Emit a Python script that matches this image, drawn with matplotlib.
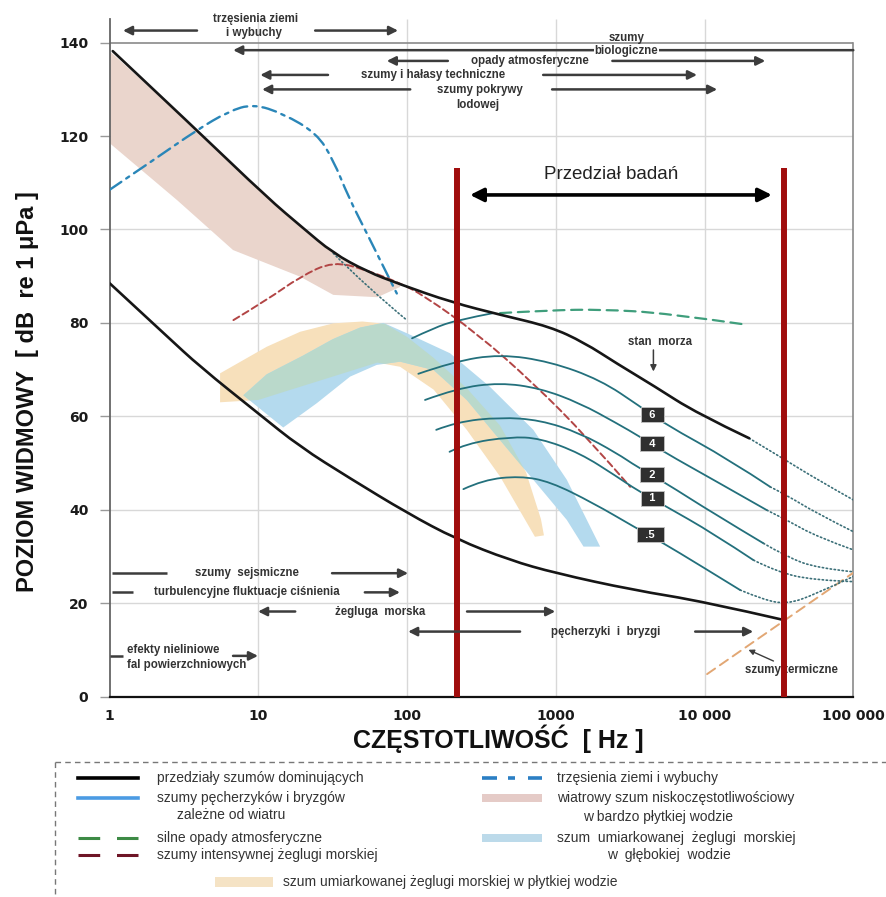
import matplotlib
matplotlib.use("Agg")
import matplotlib.pyplot as plt
from matplotlib import font_manager
from matplotlib.patches import Rectangle, PathPatch
from matplotlib.path import Path

# ---------------- values (Hz, dB re 1 uPa) ----------------
# upper limit of prevailing noise (sea state) + dotted tail
sea_hz = [1.05, 3.85, 11.5, 20, 31.6, 53.7, 89, 200, 427, 912, 1549, 2570, 4571, 8913, 19953]
sea_db = [138.2, 121.3, 106.8, 100.3, 95.0, 91.0, 88.3, 84.4, 81.7, 79.2, 75.8, 71.3, 66.5, 60.6, 55.3]
sea_tail_hz = [19953, 32359, 57544, 100000]
sea_tail_db = [55.3, 51.3, 46.4, 42.1]

# lower limit of prevailing noise
low_hz = [1, 2.4, 4.06, 10, 19, 41.4, 100, 214, 490, 1000, 3310, 10000, 33900]
low_db = [88.5, 77.3, 70.6, 60.6, 53.5, 46.7, 39.3, 33.7, 29.2, 26.4, 22.8, 20.3, 16.4]

# dotted traffic branch
traffic_hz = [31.9, 53.6, 99.5]
traffic_db = [94.9, 87.7, 80.6]

# wind dependent bubble and spray noise
wind_a_hz = [108, 151, 216, 380]
wind_a_db = [76.7, 78.9, 80.6, 82.1]
wind6_hz = [119, 205, 422, 916, 1990, 3690, 5300, 14860, 27600]
wind6_db = [69.1, 71.7, 73.3, 71.7, 67.8, 62.1, 58.5, 50.6, 44.9]
wind6_tail_hz = [27600, 35700, 56900, 100000]
wind6_tail_db = [44.9, 43.1, 39.2, 35.3]
wind4_hz = [132, 216, 422, 783, 1456, 2570, 3690, 5300, 11480, 26240]
wind4_db = [63.5, 66.0, 67.2, 66.0, 62.8, 58.5, 55.6, 52.4, 46.4, 39.9]
wind4_tail_hz = [26240, 35700, 56900, 100000]
wind4_tail_db = [39.9, 37.8, 34.2, 31.4]
wind2_hz = [157, 216, 422, 783, 1456, 2570, 3510, 5300, 11480, 24900]
wind2_db = [57.1, 58.8, 59.8, 59.2, 56.4, 52.1, 49.2, 46.0, 39.2, 32.8]
wind2_tail_hz = [24900, 35700, 56900, 100000]
wind2_tail_db = [32.8, 29.9, 27.5, 26.7]
wind1_hz = [193, 251, 493, 783, 1456, 2570, 3510, 5300, 11480, 21330]
wind1_db = [52.4, 54.2, 55.6, 55.3, 52.1, 47.1, 44.2, 41.0, 34.9, 29.2]
wind1_tail_hz = [21330, 30620, 54100, 100000]
wind1_tail_db = [29.2, 26.7, 24.9, 24.6]
wind05_hz = [239, 326, 575, 916, 1790, 3330, 5300, 8870, 17340]
wind05_db = [44.4, 46.4, 47.2, 46.0, 41.4, 36.4, 32.8, 28.5, 22.8]
wind05_tail_hz = [17340, 24900, 35700, 54100, 100000]
wind05_tail_db = [22.8, 20.7, 19.8, 21.7, 25.7]
state_labels = ["6", "4", "2", "1", ".5"]

# earthquakes and explosions
quake_hz = [1.0, 2.0, 3.86, 6.3, 9.25, 14.7, 24.7, 31.9, 40.3, 53.6, 73, 85.3]
quake_db = [108.5, 115, 121.3, 125.3, 126.9, 124.8, 120.6, 114.9, 107, 99.2, 90.6, 86.3]

# heavy shipping
ship_hz = [6.8, 11.4, 19.1, 31.9, 53.6, 89.8, 129, 294, 706, 1614, 3162]
ship_db = [80.6, 84.9, 89.9, 93.2, 91.3, 88.5, 85.9, 77.8, 67.1, 55.6, 44.9]

# heavy precipitation
rain_hz = [422, 912, 1986, 5570, 19280]
rain_db = [82.1, 82.7, 82.9, 82.1, 79.6]

# thermal noise
thermal_hz = [10400, 100000]
thermal_db = [4.8, 26.5]

# shaded bands: upper edge then lower edge (back)
pink_top_hz = [1.0, 3.85, 11.5, 20, 31.6, 53.7, 89.8]
pink_top_db = [138.2, 121.3, 106.8, 100.3, 95.0, 91.0, 88.0]
pink_bot_hz = [89.8, 63.1, 31.9, 19.1, 6.76, 2.84, 1.0]
pink_bot_db = [87.7, 85.5, 86.0, 89.9, 95.6, 106.3, 118.5]

tan_top_hz = [5.53, 11.4, 19.1, 31.9, 50.1, 70.8, 100, 151, 252, 422, 631, 794, 832]
tan_top_db = [69.2, 74.9, 78.1, 79.9, 80.3, 79.8, 77.0, 72.5, 66.0, 58.0, 48.0, 38.0, 34.5]
tan_bot_hz = [724, 422, 252, 151, 89.8, 63.1, 39.8, 25.1, 15.8, 10, 5.53]
tan_bot_db = [34.2, 47.1, 57.1, 65.7, 70.6, 71.5, 69.5, 67.5, 65.5, 63.5, 63.0]

blue_top_hz = [7.93, 11.4, 20.0, 31.6, 48.3, 69.3, 99.5, 194.5, 361, 706, 1186, 1986]
blue_top_db = [64.5, 69.0, 73.0, 76.5, 79.0, 80.0, 77.8, 73.5, 66.3, 57.1, 46.4, 32.1]
blue_bot_hz = [1535, 1186, 706, 422, 252, 151, 89.8, 62.5, 41.4, 24.7, 14.7]
blue_bot_db = [32.1, 37.8, 46.4, 54.9, 63.5, 69.9, 71.7, 71.0, 68.5, 62.8, 57.6]

# study range (red verticals)
study_hz = [218, 34300]
study_top_db = 113.2

x_ticks = [1, 10, 100, 1000, 10000, 100000]
x_labels = ["1", "10", "100", "1000", "10 000", "100 000"]
y_ticks = [0, 20, 40, 60, 80, 100, 120, 140]

# ---------------- figure ----------------
installed = {f.name for f in font_manager.fontManager.ttflist}
SANS = "Liberation Sans" if "Liberation Sans" in installed else "DejaVu Sans"
plt.rcParams["font.family"] = [SANS, "DejaVu Sans"]

W, H = 887, 897
fig = plt.figure(figsize=(W / 100, H / 100), dpi=100)
X0, X1, Y0, PX_DB = 109.6, 853.3, 696.5, 4.67
ax = fig.add_axes([X0 / W, (H - Y0) / H, (X1 - X0) / W, 145 * PX_DB / H])
ax.set_xscale("log")
ax.set_xlim(1, 1e5)
ax.set_ylim(0, 145)


def curve(hz, db, **kw):
    # smooth quadratic path through the read points (midpoints taken in log-x)
    pts = list(zip(hz, db))
    verts, codes = [pts[0]], [Path.MOVETO]
    if len(pts) == 2:
        verts.append(pts[1])
        codes.append(Path.LINETO)
    for i in range(1, len(pts) - 1):
        (xa, ya), (xb, yb) = pts[i], pts[i + 1]
        end = pts[i + 1] if i == len(pts) - 2 else ((xa * xb) ** 0.5, (ya + yb) / 2)
        verts += [pts[i], end]
        codes += [Path.CURVE3, Path.CURVE3]
    kw.setdefault("capstyle", "round")
    ax.add_patch(PathPatch(Path(verts, codes), fill=False, **kw))


# frame and grid
for s in ["top", "right"]:
    ax.spines[s].set_visible(False)
ax.spines["left"].set_color("#666666")
ax.spines["left"].set_linewidth(1.3)
ax.spines["bottom"].set_color("#111111")
ax.spines["bottom"].set_linewidth(1.6)
ax.hlines(y_ticks[1:-1], 1, 1e5, color="#d8d8d8", lw=1, zorder=0.5)
ax.vlines(x_ticks[1:-1], 0, 145, color="#d8d8d8", lw=1, zorder=0.5)
ax.plot([1, 1e5], [140, 140], color="#8a8a8a", lw=1.2, zorder=0.6)
ax.plot([1e5, 1e5], [0, 140], color="#8a8a8a", lw=1.2, zorder=0.6, clip_on=False)

ax.set_xticks(x_ticks)
ax.set_xticklabels(x_labels)
ax.xaxis.set_minor_locator(matplotlib.ticker.NullLocator())
ax.set_yticks(y_ticks)
ax.tick_params(axis="y", length=7.2, width=1, color="#999999", pad=8)
ax.tick_params(axis="x", length=0, pad=9)
for lab in ax.get_xticklabels() + ax.get_yticklabels():
    lab.set_fontfamily("DejaVu Sans")
    lab.set_fontweight("bold")
    lab.set_fontsize(10)
    lab.set_color("#1a1a1a")

# shaded bands
ax.fill(pink_top_hz + pink_bot_hz, pink_top_db + pink_bot_db, color="#ead5cc", lw=0, zorder=1)
ax.fill(tan_top_hz + tan_bot_hz, tan_top_db + tan_bot_db, color="#f7e0bb", lw=0, zorder=1)
blue_patch = ax.fill(blue_top_hz + blue_bot_hz, blue_top_db + blue_bot_db,
                     color="#b4daee", lw=0, zorder=1.1)[0]
overlap = ax.fill(tan_top_hz + tan_bot_hz, tan_top_db + tan_bot_db,
                  color="#bad9cb", lw=0, zorder=1.2)[0]
overlap.set_clip_path(blue_patch)

# curves
TEAL = "#23707c"
DOT = dict(edgecolor="#3b6f78", lw=1.2, ls=(0, (0.8, 1.6)), zorder=3)
curve(quake_hz, quake_db, edgecolor="#2a86b8", lw=1.7, ls=(0, (6, 2.5, 1.5, 2.5)), zorder=3)
curve(traffic_hz, traffic_db, **DOT)
curve(ship_hz, ship_db, edgecolor="#b24545", lw=1.4, ls=(0, (3.5, 2)), zorder=3)
curve(rain_hz, rain_db, edgecolor="#3f9e7c", lw=1.6, ls=(0, (5, 3)), zorder=3)
curve(thermal_hz, thermal_db, edgecolor="#e2a774", lw=1.4, ls=(0, (5, 3)), zorder=3)

curve(wind_a_hz, wind_a_db, edgecolor=TEAL, lw=1.3, zorder=3)
winds = [(wind6_hz, wind6_db, wind6_tail_hz, wind6_tail_db),
         (wind4_hz, wind4_db, wind4_tail_hz, wind4_tail_db),
         (wind2_hz, wind2_db, wind2_tail_hz, wind2_tail_db),
         (wind1_hz, wind1_db, wind1_tail_hz, wind1_tail_db),
         (wind05_hz, wind05_db, wind05_tail_hz, wind05_tail_db)]
for hz, db, thz, tdb in winds:
    curve(hz, db, edgecolor=TEAL, lw=1.3, zorder=3)
    curve(thz, tdb, **DOT)

curve(sea_hz, sea_db, edgecolor="#161616", lw=1.9, zorder=4)
curve(sea_tail_hz, sea_tail_db, **DOT)
curve(low_hz, low_db, edgecolor="#161616", lw=1.9, zorder=4)

# sea state boxes
label_pos = [(4450, 60.3), (4450, 54.1), (4450, 47.5), (4450, 42.4), (4315, 34.6)]
for txt, (lx, ly) in zip(state_labels, label_pos):
    ax.text(lx, ly, "  " + txt + "  ", ha="center", va="center", color="white",
            fontsize=8, fontweight="bold", zorder=8,
            bbox=dict(boxstyle="square,pad=0.22", fc="#2f2f2f", ec="#bdbdbd", lw=0.7))

# study range
ax.vlines(study_hz, 0, study_top_db, color="#a00d0d", lw=4.3, zorder=6)
ax.annotate("", xy=(28360, 107.4), xytext=(265, 107.4),
            arrowprops=dict(arrowstyle="<|-|>", color="black", lw=2.6,
                            mutation_scale=20, shrinkA=0, shrinkB=0), zorder=7)
ax.text(2370, 111.7, "Przedział badań", ha="center", va="center", fontsize=13.5,
        color="#222222", zorder=7)

# ---------------- range annotations ----------------
AC = "#3c3c3c"
ANN = dict(fontsize=8.3, fontweight="bold", color="#333333", ha="center", va="center", zorder=7)


def arrow(tail, head, y, lw=1.8, ms=13):
    ax.annotate("", xy=(head, y), xytext=(tail, y), annotation_clip=False,
                arrowprops=dict(arrowstyle="-|>", color=AC, lw=lw, mutation_scale=ms,
                                shrinkA=0, shrinkB=0), zorder=6)


def bar(a, b, y):
    ax.plot([a, b], [y, y], color=AC, lw=1.8, clip_on=False, zorder=6, solid_capstyle="butt")


ax.text(9.6, 145.0, "trzęsienia ziemi", **ANN)
ax.text(9.3, 142.0, "i wybuchy", **ANN)
arrow(3.87, 1.23, 142.6)
arrow(24.1, 87, 142.6)

arrow(1e5, 6.77, 138.4)
ax.text(2970, 141.0, "szumy", **ANN)
ax.text(2970, 138.2, "biologiczne", bbox=dict(fc="white", ec="none", pad=0.6), **ANN)

ax.text(671, 136.1, "opady atmosferyczne", **ANN)
arrow(188, 73, 136.1)
arrow(2400, 25600, 136.1)

ax.text(150, 133.1, "szumy i hałasy techniczne", **ANN)
arrow(29.4, 10.3, 133.1)
arrow(822, 8900, 133.1)

ax.text(310, 129.9, "szumy pokrywy", **ANN)
ax.text(300, 126.7, "lodowej", **ANN)
arrow(105, 10.6, 130.0)
arrow(944, 12160, 130.0)

ax.text(8.4, 26.4, "szumy  sejsmiczne", **ANN)
bar(1.04, 2.43, 26.4)
arrow(31.3, 101.6, 26.4)

ax.text(8.4, 22.3, "turbulencyjne fluktuacje ciśnienia", **ANN)
bar(1.04, 1.44, 22.3)
arrow(52, 89.6, 22.3)

ax.text(65.8, 18.2, "żegluga  morska", **ANN)
arrow(17.7, 9.95, 18.2)
arrow(253, 991, 18.2)

ax.text(2180, 13.9, "pęcherzyki  i  bryzgi", **ANN)
arrow(575, 101.6, 13.9)
arrow(8650, 21240, 13.9)

ANN_L = dict(ANN, ha="left")
ax.text(1.31, 10.0, "efekty nieliniowe", **ANN_L)
ax.text(1.31, 6.75, "fal powierzchniowych", **ANN_L)
bar(1.0, 1.23, 8.7)
arrow(6.76, 9.95, 8.7)

ax.text(38300, 5.7, "szumy termiczne", **dict(ANN, zorder=5))
ax.annotate("", xy=(19730, 10.0), xytext=(29050, 7.6),
            arrowprops=dict(arrowstyle="-|>", color=AC, lw=1.0, mutation_scale=8,
                            shrinkA=0, shrinkB=0), zorder=6)

ax.text(5030, 76.0, "stan  morza", **ANN)
ax.annotate("", xy=(4530, 69.6), xytext=(4530, 74.2),
            arrowprops=dict(arrowstyle="-|>", color=AC, lw=1.1, mutation_scale=9,
                            shrinkA=0, shrinkB=0), zorder=6)

# axis titles
fig.text(28 / W, 1 - 392 / H, "POZIOM WIDMOWY  [ dB  re 1 μPa ]", rotation=90,
         ha="center", va="center", fontsize=17, fontweight="bold", color="#111111")
fig.text(498 / W, 1 - 739 / H, "CZĘSTOTLIWOŚĆ  [ Hz ]", ha="center", va="center",
         fontsize=18, fontweight="bold", color="#111111")

# ---------------- legend (pixel layout) ----------------
lg = fig.add_axes([0, 0, 1, 1])
lg.set_xlim(0, W)
lg.set_ylim(H, 0)
lg.axis("off")
box = dict(color="#777777", lw=1, ls=(0, (4, 3)))
lg.plot([55, 887], [762, 762], **box)
lg.plot([55, 55], [762, 897], **box)

lg.plot([78, 138], [778, 778], color="black", lw=2.6)
lg.plot([78, 138], [798, 798], color="#4b9be3", lw=2.6)
lg.plot([78, 138], [838, 838], color="#3d8a45", lw=2.2, ls=(0, (7.1, 5.5)))
lg.plot([78, 138], [855, 855], color="#6e1526", lw=2.2, ls=(0, (7.1, 5.5)))
for a, b in [(482, 497), (508, 515), (528, 542)]:
    lg.plot([a, b], [778, 778], color="#2b7fc4", lw=2.6, solid_capstyle="butt")
lg.add_patch(Rectangle((482, 794), 60, 8, color="#e5cbc7", lw=0))
lg.add_patch(Rectangle((482, 834), 60, 8, color="#bcdaea", lw=0))
lg.add_patch(Rectangle((215, 877), 58, 10, color="#f5e3c5", lw=0))

LEG = dict(fontsize=10, color="#333333", ha="left", va="center")
lg.text(157, 778, "przedziały szumów dominujących", **LEG)
lg.text(157, 798, "szumy pęcherzyków i bryzgów", **LEG)
lg.text(177, 815, "zależne od wiatru", **LEG)
lg.text(157, 838, "silne opady atmosferyczne", **LEG)
lg.text(157, 855, "szumy intensywnej żeglugi morskiej", **LEG)
lg.text(557, 778, "trzęsienia ziemi i wybuchy", **LEG)
lg.text(557, 798, "wiatrowy szum niskoczęstotliwościowy", **LEG)
lg.text(583, 817, "w bardzo płytkiej wodzie", **LEG)
lg.text(557, 838, "szum  umiarkowanej  żeglugi  morskiej", **LEG)
lg.text(607, 855, "w  głębokiej  wodzie", **LEG)
lg.text(283, 882, "szum umiarkowanej żeglugi morskiej w płytkiej wodzie", **LEG)

fig.savefig("out.png", dpi=100, facecolor="white")
